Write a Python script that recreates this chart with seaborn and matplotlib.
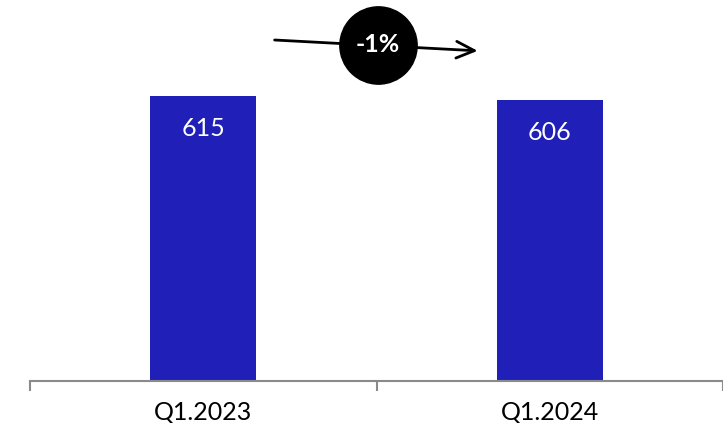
import matplotlib
matplotlib.use("Agg")
import matplotlib.pyplot as plt
import seaborn as sns
import pandas as pd

quarters = ["Q1.2023", "Q1.2024"]
values = [615, 606]
change_label = "-1%"

bar_color = "#2020B8"
axis_color = "#8a8a8a"

sns.set_style("white")
plt.rcParams['font.family'] = ['Lato', 'DejaVu Sans']

df = pd.DataFrame({"quarter": quarters, "value": values})

fig = plt.figure(figsize=(7.23, 4.23), dpi=100)
ax = fig.add_axes([30 / 723, 42 / 423, 1 - 30 / 723, 381 / 423])

sns.barplot(data=df, x="quarter", y="value", color=bar_color, saturation=1,
            width=0.305, edgecolor=bar_color, linewidth=0, ax=ax)

ax.set_xlim(-0.5, 1.5)
ax.set_ylim(0, 822)

# value labels inside bars
for i, v in enumerate(values):
    ax.text(i, v - 70, str(v), ha="center", va="center", color="white", fontsize=18)

# change arrow with circle badge
ax.annotate("", xy=(0.80, 712), xytext=(0.198, 736),
            arrowprops=dict(arrowstyle="->,head_length=1.3,head_width=0.6",
                            color="black", lw=2.0), annotation_clip=False)
ax.scatter([0.504], [725], s=3100, color="black", zorder=5, clip_on=False)
ax.text(0.504, 725, change_label, ha="center", va="center", color="white",
        fontsize=18, fontweight="bold", zorder=6)

# axes styling
for side in ["top", "right", "left"]:
    ax.spines[side].set_visible(False)
ax.spines["bottom"].set_color(axis_color)
ax.spines["bottom"].set_linewidth(1.5)
ax.set_yticks([])
ax.set_xlabel("")
ax.set_ylabel("")
ax.set_xticks([0, 1])
ax.set_xticklabels(quarters, fontsize=18)
ax.set_xticks([-0.5, 0.5, 1.5], minor=True)
ax.tick_params(axis="x", which="major", bottom=False, length=0, pad=14, colors="black")
ax.tick_params(axis="x", which="minor", bottom=True, length=7, width=1.5, color=axis_color)

fig.savefig("out.png", dpi=100)
